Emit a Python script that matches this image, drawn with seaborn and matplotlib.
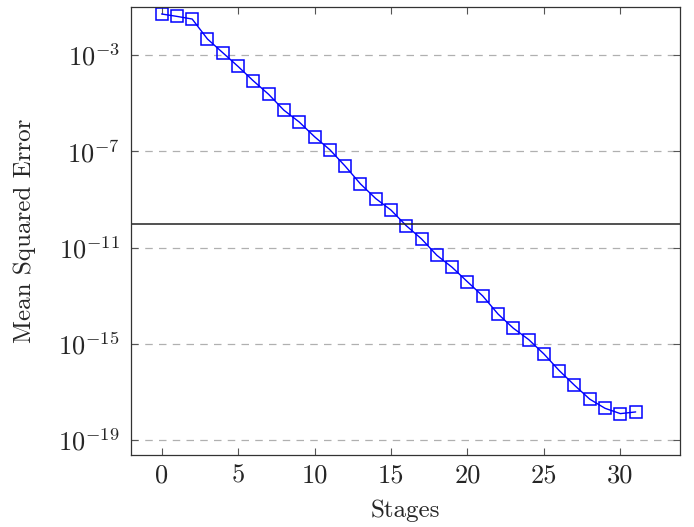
import numpy as np
import pandas as pd
import matplotlib
matplotlib.use("Agg")
import matplotlib.pyplot as plt
import seaborn as sns

stages = list(range(32))
log_mse = [-1.29, -1.39, -1.50, -2.33, -2.90, -3.47, -4.07, -4.63, -5.29, -5.78,
           -6.39, -6.93, -7.61, -8.35, -8.96, -9.44, -10.09, -10.64, -11.32, -11.82,
           -12.42, -13.01, -13.76, -14.35, -14.82, -15.42, -16.11, -16.72, -17.30, -17.68,
           -17.90, -17.83]
mse = [10.0 ** v for v in log_mse]
threshold = 1e-10
y_ticks = [1e-19, 1e-15, 1e-11, 1e-7, 1e-3]
x_ticks = [0, 5, 10, 15, 20, 25, 30]

df = pd.DataFrame({"Stages": stages, "MSE": mse})

sns.set_style("ticks")
plt.rcParams["font.family"] = ["cmr10", "DejaVu Serif"]
plt.rcParams["mathtext.fontset"] = "cm"
plt.rcParams["axes.formatter.use_mathtext"] = True

fig = plt.figure(figsize=(6.94, 5.27), dpi=100)
ax = fig.add_axes([131/694, 1-455/527, (680-131)/694, (455-7)/527])

sns.lineplot(data=df, x="Stages", y="MSE", ax=ax, color="blue", linewidth=1.0,
             marker="s", markersize=8, markerfacecolor="none",
             markeredgecolor="blue", markeredgewidth=1.1)
ax.set_yscale("log")
ax.axhline(threshold, color="#222222", linewidth=1.1)

ax.set_xlim(-2.0, 33.9)
ax.set_ylim(10**-19.62, 10**-1.0)
ax.set_yticks(y_ticks)
ax.yaxis.set_minor_locator(matplotlib.ticker.NullLocator())
ax.set_xticks(x_ticks)
ax.set_xticklabels([str(t) for t in x_ticks])
ax.set_yticklabels([r"$10^{%d}$" % int(round(np.log10(t))) for t in y_ticks])

ax.grid(axis="y", which="major", color="#b0b0b0", linestyle=(0, (6, 5)), linewidth=0.9)
ax.tick_params(direction="in", length=5, width=0.8, color="#555555",
               top=True, right=True, labelsize=19)
ax.tick_params(axis="y", pad=8)
ax.tick_params(axis="x", pad=6)
for s in ax.spines.values():
    s.set_color("#333333")
    s.set_linewidth(0.9)

ax.set_xlabel("Stages", fontsize=18, labelpad=9)
ax.set_ylabel("Mean Squared Error", fontsize=18, labelpad=16)

fig.savefig("out.png", dpi=100)
